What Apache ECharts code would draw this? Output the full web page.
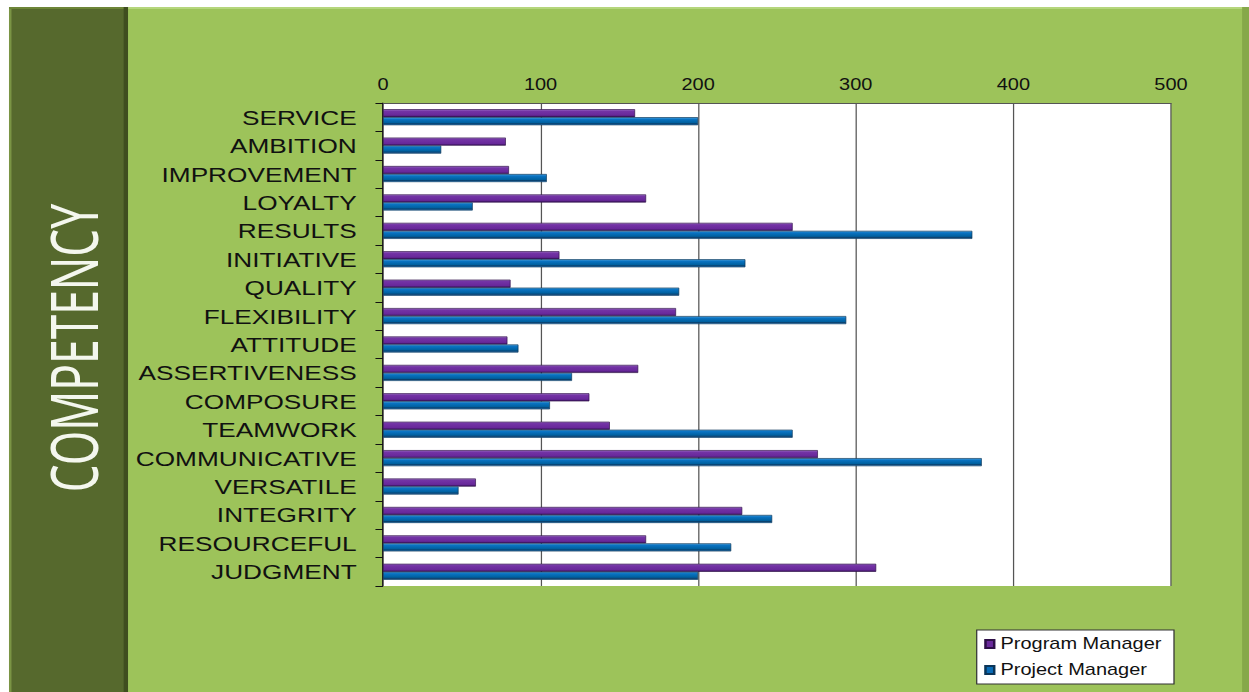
<!DOCTYPE html>
<html>
<head>
<meta charset="utf-8">
<script src="https://cdn.jsdelivr.net/npm/echarts@6/dist/echarts.min.js"></script>
<style>
html,body{margin:0;padding:0;background:#fff;overflow:hidden;}
#chart{width:1000px;height:692px;transform:scaleX(1.249);transform-origin:0 0;}
</style>
</head>
<body>
<div id="chart"></div>
<script>
// ---- data ----
const categories = ['SERVICE','AMBITION','IMPROVEMENT','LOYALTY','RESULTS','INITIATIVE','QUALITY','FLEXIBILITY','ATTITUDE','ASSERTIVENESS','COMPOSURE','TEAMWORK','COMMUNICATIVE','VERSATILE','INTEGRITY','RESOURCEFUL','JUDGMENT'];
const programManager = [160, 78, 80, 167, 260, 112, 81, 186, 79, 162, 131, 144, 276, 59, 228, 167, 313];
const projectManager = [200, 37, 104, 57, 374, 230, 188, 294, 86, 120, 106, 260, 380, 48, 247, 221, 200];
const seriesNames = ['Program Manager', 'Project Manager'];
const axisTitle = 'COMPETENCY';
const xMin = 0, xMax = 500, xStep = 100;

const chart = echarts.init(document.getElementById('chart'), null, {renderer: 'svg'});

const purpleGrad = new echarts.graphic.LinearGradient(0, 0, 0, 1, [
  {offset: 0, color: '#a47ccc'}, {offset: 0.2, color: '#7434a6'},
  {offset: 0.75, color: '#68289a'}, {offset: 1, color: '#3c1660'}]);
const blueGrad = new echarts.graphic.LinearGradient(0, 0, 0, 1, [
  {offset: 0, color: '#5aaee6'}, {offset: 0.2, color: '#0a74c4'},
  {offset: 0.7, color: '#00609f'}, {offset: 0.85, color: '#0b3f6c'}, {offset: 1, color: '#3b8cd0'}]);

const font = "'Liberation Sans', Arial, sans-serif";

chart.setOption({
  backgroundColor: '#ffffff',
  animation: false,
  graphic: [
    {type: 'rect', z: -10, shape: {x: 102.5, y: 7, width: 900, height: 690}, style: {fill: '#9dc35a'}},
    {type: 'rect', z: -9, shape: {x: 102.5, y: 7, width: 900, height: 2}, style: {fill: '#b5d67c'}},
    {type: 'rect', z: -9, shape: {x: 994.5, y: 7, width: 10, height: 690}, style: {fill: '#86a84a'}},
    {type: 'rect', z: -10, shape: {x: 7.2, y: 7, width: 95.3, height: 690}, style: {fill: '#56692d'}},
    {type: 'rect', z: -9, shape: {x: 7.2, y: 7, width: 2, height: 690}, style: {fill: '#7a9444'}},
    {type: 'rect', z: -9, shape: {x: 7.2, y: 7, width: 95.3, height: 2}, style: {fill: '#6d8538'}},
    {type: 'rect', z: -9, shape: {x: 99, y: 7, width: 3.5, height: 690}, style: {fill: '#3f4e1f'}},
    {type: 'text', z: 5, x: 58, y: 348, rotation: Math.PI / 2, scaleX: 0.85,
      style: {text: axisTitle, fill: '#f4f7ee', font: "52px 'Noto Sans', 'Open Sans', sans-serif", align: 'center', verticalAlign: 'middle'}}
  ],
  grid: {left: 306.6, right: 62.5, top: 103, bottom: 106, show: true, backgroundColor: '#ffffff', borderWidth: 0, containLabel: false},
  legend: {
    orient: 'vertical', left: 782, top: 630,
    backgroundColor: '#ffffff', borderColor: '#333333', borderWidth: 1,
    padding: [6, 10, 6, 6], itemGap: 10, itemWidth: 7, itemHeight: 8, itemTextGap: 4,
    icon: 'rect',
    textStyle: {fontSize: 16, color: '#111', fontFamily: font},
    data: [
      {name: seriesNames[0], itemStyle: {color: '#6a2a9c'}},
      {name: seriesNames[1], itemStyle: {color: '#0a6cb8'}}
    ]
  },
  xAxis: {
    type: 'value', position: 'top', min: xMin, max: xMax, interval: xStep,
    axisLine: {show: true, lineStyle: {color: '#555', width: 1}},
    axisTick: {show: false},
    axisLabel: {color: '#111', fontSize: 16, fontFamily: font, margin: 10},
    splitLine: {show: true, lineStyle: {color: '#555', width: 1}}
  },
  yAxis: {
    type: 'category', inverse: true, data: categories,
    axisLine: {show: true, lineStyle: {color: '#111', width: 1}},
    axisTick: {show: true, length: 6, lineStyle: {color: '#111'}},
    axisLabel: {color: '#111', fontSize: 21, fontFamily: font, margin: 21}
  },
  series: [
    {name: seriesNames[0], type: 'bar', data: programManager, barWidth: 8, barGap: '0%',
      itemStyle: {color: purpleGrad, borderColor: '#2e0f48', borderWidth: 0.6}},
    {name: seriesNames[1], type: 'bar', data: projectManager, barWidth: 8, barGap: '0%',
      itemStyle: {color: blueGrad, borderColor: '#0b3558', borderWidth: 0.6}}
  ]
});
</script>
</body>
</html>
